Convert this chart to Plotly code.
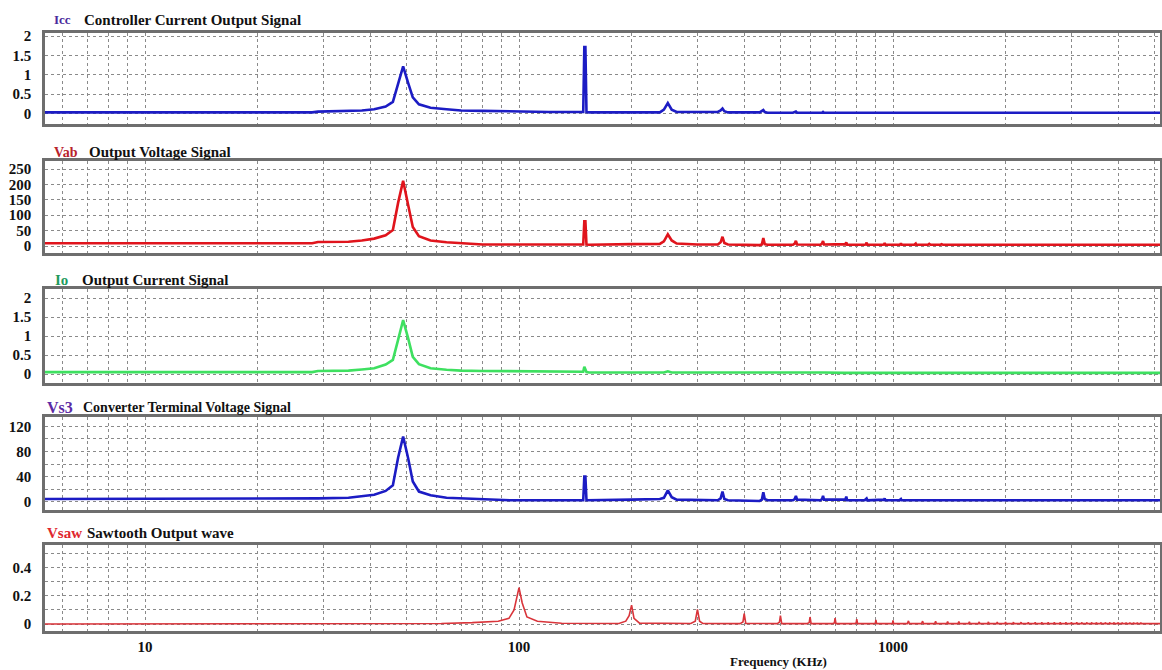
import plotly.graph_objects as go

# ---------------- data ----------------
freq_khz = [
    5.4, 20, 28, 29, 35, 38, 41, 44, 46, 47.5, 49, 50.5, 52, 54, 58, 64, 70, 80, 95, 120,
    146, 148.5, 149.5, 150.5, 151.5, 154, 200,
    238, 244, 250, 256, 264, 300,
    340, 346, 350, 354, 362,
    440, 446, 450, 454, 462,
    540, 546, 550, 554,
    640, 646, 650, 654,
    740, 746, 750, 754,
    840, 846, 850, 854,
    940, 946, 950, 954,
    1040, 1046, 1050, 1054,
    1140, 1146, 1150, 1154,
    1240, 1250, 1260,
    1340, 1350, 1360,
    1440, 1450, 1460,
    1540, 1550, 1560,
    1640, 1650, 1660,
    2000, 5200,
]

icc = [
    0.03, 0.03, 0.03, 0.05, 0.06, 0.08, 0.11, 0.18, 0.30, 0.75, 1.22, 0.80, 0.42, 0.24, 0.15, 0.11, 0.08, 0.07, 0.05, 0.04,
    0.04, 0.04, 1.72, 1.72, 0.04, 0.03, 0.03,
    0.03, 0.10, 0.27, 0.10, 0.04, 0.04,
    0.04, 0.08, 0.13, 0.06, 0.03,
    0.03, 0.06, 0.09, 0.04, 0.02,
    0.02, 0.03, 0.05, 0.02,
    0.02, 0.02, 0.04, 0.02,
    0.02, 0.02, 0.03, 0.02,
    0.02, 0.02, 0.03, 0.02,
    0.02, 0.02, 0.03, 0.02,
    0.02, 0.02, 0.03, 0.02,
    0.02, 0.02, 0.03, 0.02,
    0.02, 0.03, 0.02,
    0.02, 0.03, 0.02,
    0.02, 0.02, 0.02,
    0.02, 0.02, 0.02,
    0.02, 0.02, 0.02,
    0.02, 0.02,
]

vab = [
    9, 9, 9, 13, 14, 18, 24, 35, 52, 140, 212, 135, 62, 32, 18, 12, 9, 5, 5, 5,
    5, 5, 80, 80, 5, 4, 6,
    7, 15, 38, 18, 8, 5,
    5, 12, 30, 10, 5,
    3, 5, 26, 6, 4,
    4, 8, 17, 5,
    4, 8, 16, 5,
    4, 6, 12, 4,
    4, 5, 11, 4,
    4, 5, 10, 4,
    4, 5, 9, 4,
    4, 5, 8, 4,
    4, 7, 4,
    4, 6, 4,
    4, 6, 4,
    4, 5, 4,
    4, 5, 4,
    4, 4,
]

io = [
    0.05, 0.05, 0.05, 0.08, 0.09, 0.12, 0.15, 0.25, 0.37, 0.90, 1.42, 0.95, 0.45, 0.26, 0.15, 0.11, 0.09, 0.08, 0.07, 0.06,
    0.05, 0.06, 0.19, 0.12, 0.05, 0.04, 0.04,
    0.04, 0.04, 0.07, 0.04, 0.04, 0.04,
    0.04, 0.04, 0.05, 0.04, 0.04,
    0.04, 0.04, 0.04, 0.04, 0.04,
    0.04, 0.04, 0.04, 0.04,
    0.04, 0.04, 0.04, 0.04,
    0.03, 0.03, 0.03, 0.03,
    0.03, 0.03, 0.03, 0.03,
    0.03, 0.03, 0.03, 0.03,
    0.03, 0.03, 0.03, 0.03,
    0.03, 0.03, 0.03, 0.03,
    0.03, 0.03, 0.03,
    0.03, 0.03, 0.03,
    0.03, 0.03, 0.03,
    0.03, 0.03, 0.03,
    0.03, 0.03, 0.03,
    0.03, 0.03,
]

vs3 = [
    4, 4, 4, 5, 6, 8.5, 11, 17, 26, 70, 104, 70, 32, 16, 10, 6, 5, 4, 2, 2,
    2, 2, 40, 40, 2, 2, 3,
    4, 6, 18, 7, 3, 2,
    2, 5, 16, 4, 2,
    1, 3, 15, 4, 2,
    2, 4, 9, 3,
    2, 4, 9, 3,
    2, 3, 8, 2,
    2, 3, 5, 2,
    2, 3, 5, 2,
    2, 3, 4, 2,
    2, 3, 3, 2,
    2, 3, 2,
    2, 3, 2,
    2, 3, 2,
    2, 3, 2,
    2, 3, 2,
    2, 2,
]

saw_freq_khz = [
    5.4, 50, 62, 75, 88, 94, 97, 100, 102, 105, 112, 130,
    185, 193, 197, 200, 203, 210,
    288, 296, 300, 304, 310,
    390, 397, 400, 404,
    490, 497, 500, 504,
    590, 597, 600, 604,
    690, 697, 700, 704,
    790, 797, 800, 804,
    890, 897, 900, 904,
    990, 997, 1000, 1004,
    1092, 1100, 1106, 1192, 1200, 1206, 1292, 1300, 1306, 1392, 1400, 1406, 1492, 1500, 1506,
    1592, 1600, 1606, 1692, 1700, 1706, 1792, 1800, 1806, 1892, 1900, 1906, 1992, 2000, 2006,
    2092, 2100, 2106, 2192, 2200, 2206, 2292, 2300, 2306, 2392, 2400, 2406, 2492, 2500, 2506,
    2592, 2600, 2606, 2692, 2700, 2706, 2792, 2800, 2806, 2892, 2900, 2906, 2992, 3000, 3006,
    3092, 3100, 3106, 3192, 3200, 3206, 3292, 3300, 3306, 3392, 3400, 3406, 3492, 3500, 3506,
    3592, 3600, 3606, 3692, 3700, 3706, 3792, 3800, 3806, 3892, 3900, 3906, 3992, 4000, 4006,
    4092, 4100, 4106, 4192, 4200, 4206, 4292, 4300, 4306, 4392, 4400, 4406, 4492, 4500, 4506,
    4592, 4600, 4606, 5200,
]

vsaw = [
    0.0, 0.0, 0.004, 0.01, 0.02, 0.04, 0.10, 0.26, 0.15, 0.05, 0.02, 0.005,
    0.004, 0.02, 0.06, 0.135, 0.04, 0.006,
    0.004, 0.02, 0.105, 0.02, 0.004,
    0.003, 0.015, 0.075, 0.004,
    0.003, 0.012, 0.06, 0.003,
    0.003, 0.010, 0.05, 0.003,
    0.003, 0.008, 0.042, 0.003,
    0.003, 0.007, 0.035, 0.003,
    0.003, 0.006, 0.030, 0.003,
    0.003, 0.005, 0.025, 0.003,
    0.003, 0.022, 0.003, 0.003, 0.020, 0.003, 0.003, 0.019, 0.003, 0.003, 0.018, 0.003, 0.003, 0.017, 0.003,
    0.003, 0.016, 0.003, 0.003, 0.015, 0.003, 0.003, 0.015, 0.003, 0.003, 0.014, 0.003, 0.003, 0.014, 0.003,
    0.003, 0.013, 0.003, 0.003, 0.013, 0.003, 0.003, 0.013, 0.003, 0.003, 0.012, 0.003, 0.003, 0.012, 0.003,
    0.003, 0.012, 0.003, 0.003, 0.012, 0.003, 0.003, 0.012, 0.003, 0.003, 0.012, 0.003, 0.003, 0.012, 0.003,
    0.003, 0.012, 0.003, 0.003, 0.012, 0.003, 0.003, 0.012, 0.003, 0.003, 0.012, 0.003, 0.003, 0.012, 0.003,
    0.003, 0.012, 0.003, 0.003, 0.012, 0.003, 0.003, 0.012, 0.003, 0.003, 0.012, 0.003, 0.003, 0.012, 0.003,
    0.003, 0.012, 0.003, 0.003, 0.012, 0.003, 0.003, 0.012, 0.003, 0.003, 0.012, 0.003, 0.003, 0.012, 0.003,
    0.003, 0.012, 0.003, 0.003,
]

for arr in (icc, vab, io, vs3):
    assert len(arr) == len(freq_khz), (len(arr), len(freq_khz))
assert len(vsaw) == len(saw_freq_khz), (len(vsaw), len(saw_freq_khz))

# panel titles: (prefix, prefix colour, prefix size, title, title size)
panel_titles = [
    ("Icc", "#4a2a9c", 13, "Controller Current Output Signal", 15),
    ("Vab", "#b8222b", 14, "Output Voltage Signal", 15),
    ("Io", "#1f9a5e", 15, "Output Current Signal", 15),
    ("Vs3", "#5b2aa5", 16, "Converter Terminal Voltage Signal", 14),
    ("Vsaw", "#e0262e", 15, "Sawtooth Output wave", 15),
]

y_tickvals = [
    [0, 0.5, 1, 1.5, 2],
    [0, 50, 100, 150, 200, 250],
    [0, 0.5, 1, 1.5, 2],
    [0, 20, 40, 60, 80, 100, 120],
    [0, 0.1, 0.2, 0.3, 0.4, 0.5],
]
y_ticktext = [
    ["0", "0.5", "1", "1.5", "2"],
    ["0", "50", "100", "150", "200", "250"],
    ["0", "0.5", "1", "1.5", "2"],
    ["0", "", "40", "", "80", "", "120"],
    ["0", "", "0.2", "", "0.4", ""],
]
y_ranges = [[-0.27, 2.08], [-22.7, 276], [-0.237, 2.237], [-13.5, 135.1], [-0.05, 0.564]]

x_tickvals = [6, 7, 8, 9, 10, 20, 30, 40, 50, 60, 70, 80, 90, 100, 200, 300, 400, 500,
              600, 700, 800, 900, 1000, 2000, 3000, 4000, 5000]
x_labels = {10: "10", 100: "100", 1000: "1000"}

series = [
    (freq_khz, icc, "#1c1cc4", 2.6),
    (freq_khz, vab, "#e0141c", 2.6),
    (freq_khz, io, "#3ee060", 2.6),
    (freq_khz, vs3, "#1c1cc4", 2.6),
    (saw_freq_khz, vsaw, "#d9343a", 1.6),
]

# ---------------- layout geometry ----------------
W, H = 1162, 670
panels_px = [(33, 124), (161, 253), (289, 383), (417, 510), (545, 631)]
title_y_px = [20, 152, 280, 407, 533]
prefix_x_px = [52, 52, 53, 45, 45]
title_x_px = [82, 87, 80, 81, 85]
x_left, x_right = 45, 1160

FONT = "Liberation Serif"
bold = lambda s: f"<b>{s}</b>" if s else ""

fig = go.Figure()
layout = dict(
    width=W, height=H,
    margin=dict(l=0, r=0, t=0, b=0),
    paper_bgcolor="white", plot_bgcolor="white",
    showlegend=False,
    font=dict(family=FONT, size=14, color="#111"),
)

annotations = []
for i, (xs, ys, color, lw) in enumerate(series):
    n = i + 1
    xa = "x" if n == 1 else f"x{n}"
    ya = "y" if n == 1 else f"y{n}"
    fig.add_trace(go.Scatter(x=xs, y=ys, mode="lines", xaxis=xa, yaxis=ya,
                             line=dict(color=color, width=lw), hoverinfo="skip"))
    top, bot = panels_px[i]
    xkey = "xaxis" if n == 1 else f"xaxis{n}"
    ykey = "yaxis" if n == 1 else f"yaxis{n}"
    layout[xkey] = dict(
        type="log", domain=[x_left / W, x_right / W], anchor=ya,
        range=[0.7326, 3.7139],
        tickvals=x_tickvals,
        ticktext=[bold(x_labels.get(v, "")) if n == 5 else "" for v in x_tickvals],
        showticklabels=(n == 5),
        tickfont=dict(family=FONT, size=15, color="#111"),
        ticks="", showgrid=True, gridcolor="#8a8a8a", gridwidth=1, griddash="3px,3px",
        showline=True, mirror=True, linecolor="#6e6e6e", linewidth=2.5,
        zeroline=False, automargin=False,
    )
    layout[ykey] = dict(
        domain=[1 - bot / H, 1 - top / H], anchor=xa,
        range=y_ranges[i], tickvals=y_tickvals[i],
        ticktext=[bold(t) for t in y_ticktext[i]],
        tickfont=dict(family=FONT, size=15, color="#111"),
        ticks="", ticklabelstandoff=8,
        showgrid=True, gridcolor="#8a8a8a", gridwidth=1, griddash="3px,3px",
        showline=True, mirror=True, linecolor="#6e6e6e", linewidth=2.5,
        zeroline=False, automargin=False,
    )
    prefix, pcol, psize, title, tsize = panel_titles[i]
    annotations.append(dict(
        text=bold(prefix), x=prefix_x_px[i] / W, y=1 - title_y_px[i] / H,
        xref="paper", yref="paper", xanchor="left", yanchor="middle", showarrow=False,
        font=dict(family=FONT, size=psize, color=pcol)))
    annotations.append(dict(
        text=bold(title), x=title_x_px[i] / W, y=1 - title_y_px[i] / H,
        xref="paper", yref="paper", xanchor="left", yanchor="middle", showarrow=False,
        font=dict(family=FONT, size=tsize, color="#111")))

annotations.append(dict(
    text=bold("Frequency (KHz)"), x=778 / W, y=1 - 661 / H,
    xref="paper", yref="paper", xanchor="center", yanchor="middle", showarrow=False,
    font=dict(family=FONT, size=13, color="#111")))

layout["annotations"] = annotations
fig.update_layout(**layout)
fig.write_html(
    "out.html",
    config={"displayModeBar": False},
    post_script="document.body.style.margin='0px';document.body.style.overflow='hidden';",
)
